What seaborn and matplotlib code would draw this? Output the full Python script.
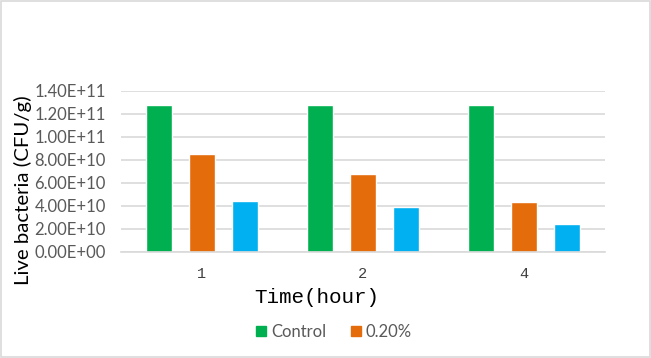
import matplotlib
matplotlib.use("Agg")
import matplotlib.pyplot as plt
import matplotlib.patches as mpatches
import numpy as np
import pandas as pd
import seaborn as sns

# Data
times = ["1", "2", "4"]
series = ["Control", "0.20%", "Series 3"]
control = [1.28e11, 1.28e11, 1.28e11]
treat_020 = [8.5e10, 6.8e10, 4.3e10]
third = [4.4e10, 3.9e10, 2.4e10]
colors = ["#00B050", "#E46C0A", "#00B0F0"]
yticks = [0, 2e10, 4e10, 6e10, 8e10, 1e11, 1.2e11, 1.4e11]

df = pd.DataFrame({
    "Time": times * 3,
    "Series": [series[0]] * 3 + [series[1]] * 3 + [series[2]] * 3,
    "Value": control + treat_020 + third,
})

sns.set_theme(style="white")
plt.rcParams["font.family"] = ["Lato", "DejaVu Sans"]

fig = plt.figure(figsize=(6.51, 3.58), dpi=100)
ax = fig.add_axes([0.186, 0.297, 0.743, 0.449])

sns.barplot(data=df, x="Time", y="Value", hue="Series", order=times,
            hue_order=series, palette=colors, width=0.8, gap=0.4,
            saturation=1, ax=ax, legend=False)

ax.set_ylim(0, 1.4e11)
ax.set_yticks(yticks)
ax.set_yticklabels([f"{v:.2E}" for v in yticks], color="#595959", fontsize=12)
ax.yaxis.grid(True, color="#D9D9D9", linewidth=1.2)
ax.set_axisbelow(True)
ax.tick_params(axis="y", length=0, pad=11)
ax.tick_params(axis="x", length=0, pad=11)
for lbl in ax.get_xticklabels():
    lbl.set_family(["Liberation Mono", "DejaVu Sans Mono"])
    lbl.set_fontsize(11)
    lbl.set_color("#404040")
for s in ["top", "right", "left"]:
    ax.spines[s].set_visible(False)
ax.spines["bottom"].set_color("#D9D9D9")
ax.spines["bottom"].set_linewidth(1.2)
ax.set_xlabel("")
ax.set_ylabel("")

fig.text(0.487, 0.17, "Time(hour)", ha="center", va="center", fontsize=15,
         family=["Liberation Mono", "DejaVu Sans Mono"], color="black")
fig.text(0.035, 0.469, "Live bacteria (CFU/g)", ha="center", va="center",
         rotation=90, fontsize=14.7, color="black")

handles = [mpatches.Patch(color=colors[0], label=series[0]),
           mpatches.Patch(color=colors[1], label=series[1])]
fig.legend(handles=handles, loc="center", bbox_to_anchor=(0.513, 0.073),
           ncol=2, frameon=False, fontsize=12, handlelength=0.6,
           handleheight=0.6, handletextpad=0.3, columnspacing=1.5,
           labelcolor="#595959")

fig.add_artist(mpatches.Rectangle((0.001, 0.002), 0.997, 0.995,
                                  transform=fig.transFigure, fill=False,
                                  edgecolor="#D9D9D9", linewidth=1.2))

fig.savefig("out.png", dpi=100)
